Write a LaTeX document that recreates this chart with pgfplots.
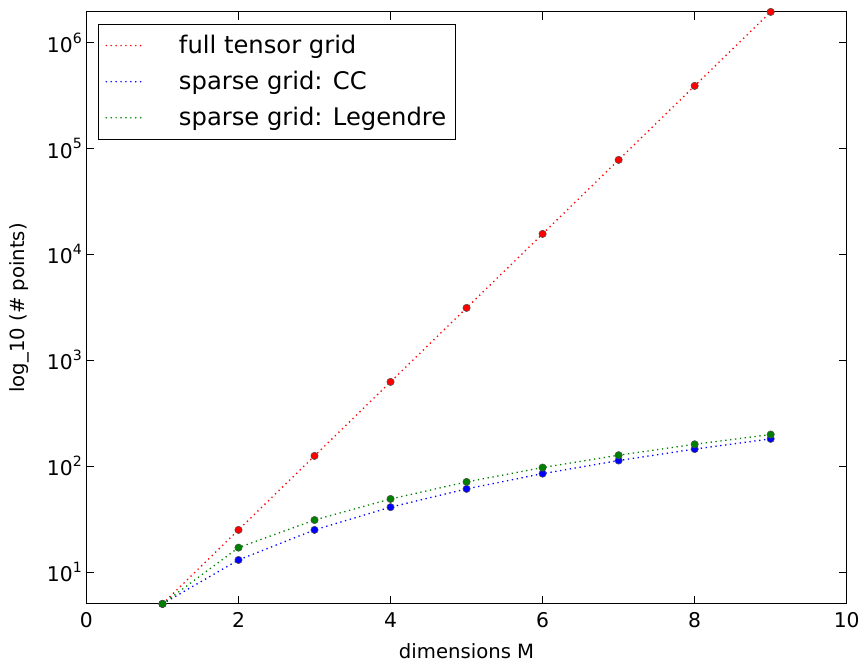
\documentclass[border=0pt]{standalone}
\usepackage{pgfplots}
\pgfplotsset{compat=1.18}
\usetikzlibrary{calc}
\usepackage{fontspec}
\setmainfont{DejaVu Sans}
\definecolor{mplgreen}{rgb}{0,0.5,0}
\begin{document}
\begin{tikzpicture}
\begin{axis}[
  scale only axis,
  width=580.5pt, height=452pt,
  xmin=0, xmax=10, ymin=5, ymax=1953125,
  ymode=log, log basis y=10,
  xtick={0,2,4,6,8,10},
  ytick={10,100,1000,10000,100000,1000000},
  yticklabel={10\raisebox{0.45em}{\fontsize{10.8}{11}\selectfont\pgfmathparse{int(round(\tick))}\pgfmathresult}},
  /pgf/number format/assume math mode=true,
  tick label style={font=\fontsize{15.5}{17}\selectfont},
  xticklabel style={yshift=-3pt},
  label style={font=\fontsize{15}{17}\selectfont},
  xlabel={dimensions M},
  ylabel={log\_10 (\# points)},
  xlabel style={at={(axis description cs:0.5,-0.0795)}, anchor=center},
  ylabel style={at={(axis description cs:-0.0876,0.5)}, anchor=center},
  tick align=inside,
  major tick length=6pt, minor tick length=3pt,
  every tick/.style={black, line width=0.6pt},
  axis line style={line width=0.8pt},
  legend style={font=\fontsize{18.5}{21}\selectfont, line width=0.8pt, inner xsep=5pt, inner ysep=6.5pt, at={(0.0157,0.980)}, anchor=north west, row sep=8pt},
  legend cell align=left,
  legend image code/.code={\draw[#1, mark=none, line width=1.3pt, line cap=round, dash pattern=on 0pt off 3.75pt] (0.3cm,0cm) -- (1.28cm,0cm);},
  clip=true,
]
\addplot[red, draw=red, dash pattern=on 1pt off 2.75pt, line width=1pt, mark=*, mark size=2.8pt, mark options={solid, fill=red, draw=black!70, line width=0.4pt}] coordinates {
(1,5) (2,25) (3,125) (4,625) (5,3125) (6,15625) (7,78125) (8,390625) (9,1953125)};
\addlegendentry{\hspace{1.35em}full tensor grid}
\addplot[blue, draw=blue, dash pattern=on 1pt off 2.75pt, line width=1pt, mark=*, mark size=2.8pt, mark options={solid, fill=blue, draw=black!70, line width=0.4pt}] coordinates {
(1,5) (2,13) (3,25) (4,41) (5,61) (6,85) (7,113) (8,145) (9,181)};
\addlegendentry{\hspace{1.35em}sparse grid: CC}
\addplot[mplgreen, draw=mplgreen, dash pattern=on 1pt off 2.75pt, line width=1pt, mark=*, mark size=2.8pt, mark options={solid, fill=mplgreen, draw=black!70, line width=0.4pt}] coordinates {
(1,5) (2,17) (3,31) (4,49) (5,71) (6,97) (7,127) (8,161) (9,199)};
\addlegendentry{\hspace{1.35em}sparse grid: Legendre}
\end{axis}
\path (current axis.south west) ++(-66pt,-41pt) rectangle ($(current axis.north east)+(9.1pt,9.1pt)$);
\end{tikzpicture}
\end{document}
